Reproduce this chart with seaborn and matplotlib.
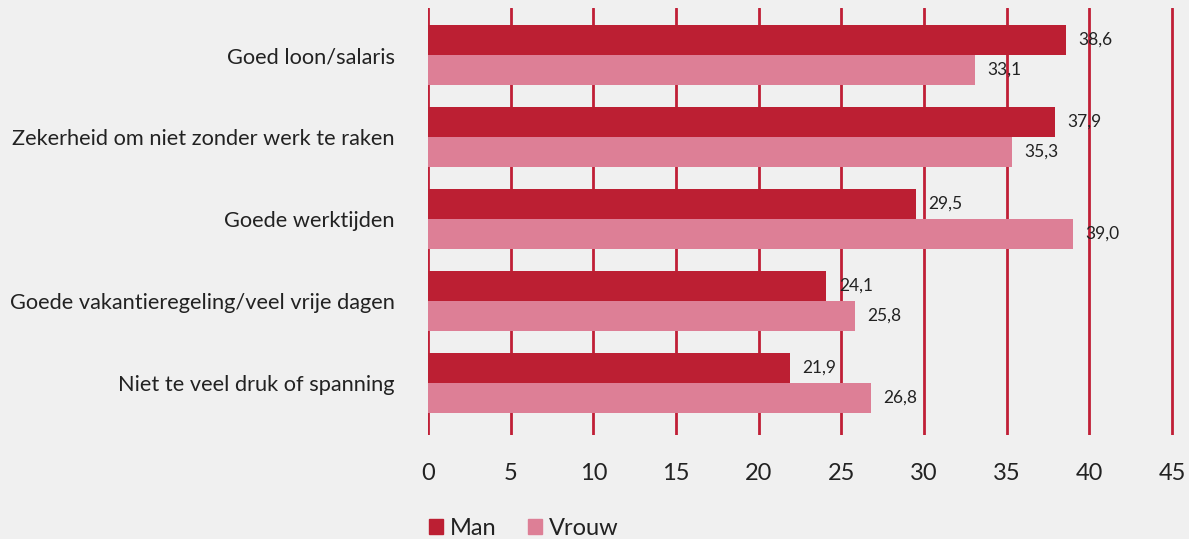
import pandas as pd
import numpy as np
import matplotlib.pyplot as plt
import seaborn as sns

categories = ["Goed loon/salaris", "Zekerheid om niet zonder werk te raken", "Goede werktijden",
              "Goede vakantieregeling/veel vrije dagen", "Niet te veel druk of spanning"]
man = [38.6, 37.9, 29.5, 24.1, 21.9]
vrouw = [33.1, 35.3, 39.0, 25.8, 26.8]
groups = ["Man", "Vrouw"]
colors = ["#bc1f33", "#dd7f96"]

df = pd.DataFrame({
    "cat": categories * 2,
    "value": man + vrouw,
    "group": ["Man"] * len(man) + ["Vrouw"] * len(vrouw),
})

sns.set_style("white")
plt.rcParams['font.family'] = ['Lato', 'DejaVu Sans']

bg = "#f0f0f0"
fig = plt.figure(figsize=(11.89, 5.39), dpi=100, facecolor=bg)
ax = fig.add_axes([0.36, 0.193, 0.6271, 0.792])
ax.set_facecolor(bg)

sns.barplot(data=df, y="cat", x="value", hue="group", orient="h", palette=colors,
            width=0.73, saturation=1, linewidth=0, ax=ax, legend=False, zorder=2)

# value labels
for cont in ax.containers:
    ax.bar_label(cont, labels=[f"{v:.1f}".replace(".", ",") for v in cont.datavalues],
                 padding=9, fontsize=12.5, color="#222222", zorder=4)

ax.set_xlim(0, 45.1)
ax.set_xticks(range(0, 46, 5))
ax.set_ylim(4.634, -0.573)
ax.grid(axis="x", color="#c01f36", linewidth=2, zorder=0)
ax.set_axisbelow(True)
for s in ax.spines.values():
    s.set_visible(False)
ax.tick_params(axis="both", length=0, labelsize=15.7, colors="#222222")
ax.tick_params(axis="x", pad=20, labelsize=17)
ax.tick_params(axis="y", pad=24)
ax.set_xlabel("")
ax.set_ylabel("")

handles = [plt.Rectangle((0, 0), 1, 1, color=c) for c in colors]
fig.legend(handles, groups, loc="center left", bbox_to_anchor=(0.343, 0.02), ncol=2,
           frameon=False, fontsize=17, handlelength=0.6, handleheight=0.6,
           handletextpad=0.3, columnspacing=1.3, labelcolor="#222222")

fig.savefig("out.png", dpi=100, facecolor=bg)
